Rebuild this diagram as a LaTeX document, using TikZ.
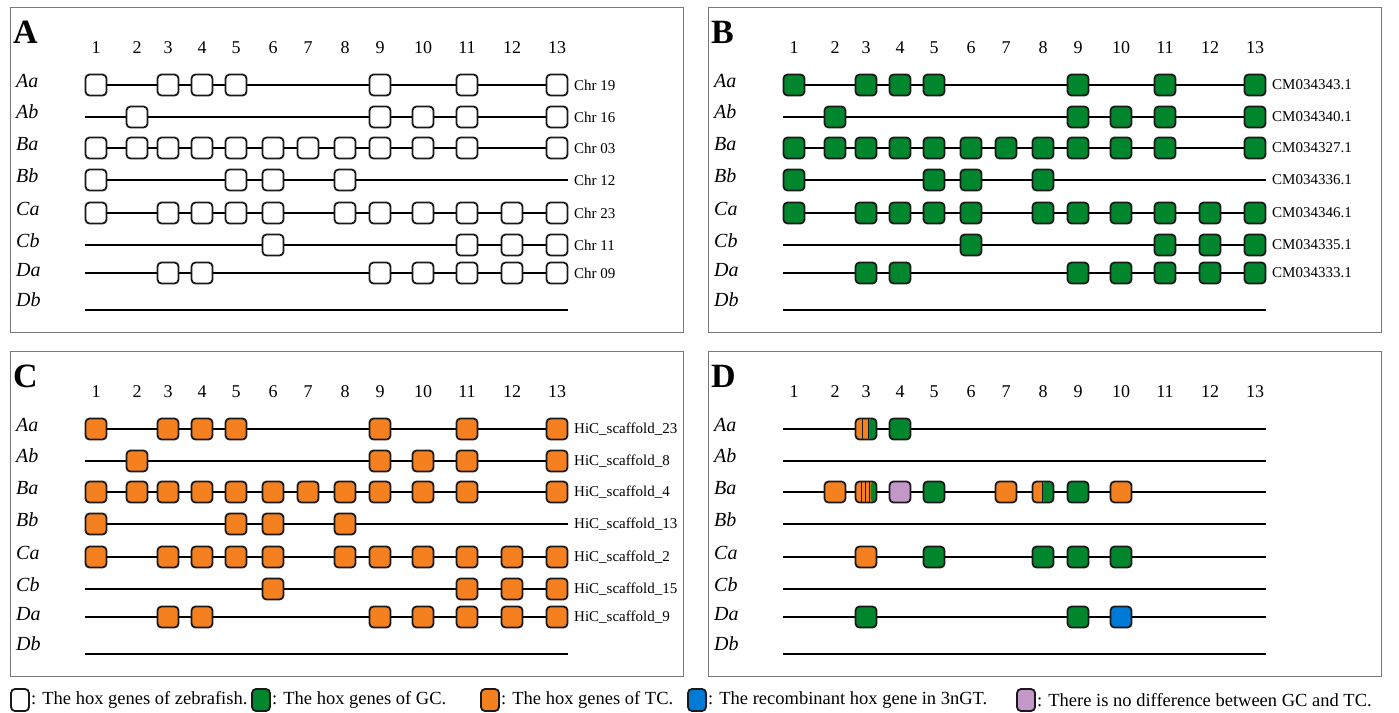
\documentclass[tikz,border=0pt]{standalone}
\usepackage{fontspec}
\setmainfont{Liberation Serif}
\usepackage{tikz}
\usetikzlibrary{positioning}

\definecolor{gcgreen}{RGB}{0,135,45}
\definecolor{tcorange}{RGB}{244,128,32}
\definecolor{recblue}{RGB}{0,122,215}
\definecolor{nodiff}{RGB}{195,152,200}
\definecolor{framegray}{RGB}{120,120,120}

\begin{document}
\begin{tikzpicture}[
  x=1pt, y=-1pt,
  panel/.style={draw=framegray, line width=1pt},
  letter/.style={font=\fontsize{34}{34}\selectfont\bfseries, anchor=west, inner sep=0pt},
  colnum/.style={font=\fontsize{18}{18}\selectfont, inner sep=0pt},
  rowname/.style={font=\fontsize{20}{20}\selectfont\itshape, anchor=west, inner sep=0pt},
  chrom/.style={font=\fontsize{15}{15}\selectfont, inner sep=0pt},
  track/.style={line width=1.6pt},
  hox/.style={draw=black!90, line width=1.8pt, rounded corners=4pt, minimum size=21pt, inner sep=0pt},
  legkey/.style={minimum width=18pt, minimum height=22pt},
  legtext/.style={font=\fontsize{18.5}{18.5}\selectfont, inner sep=1pt},
  mixtwo/.style={fill=tcorange, path picture={
    \fill[gcgreen] ([xshift=13pt]path picture bounding box.north west) rectangle (path picture bounding box.south east);
    \draw[line width=0.8pt] ([xshift=7pt]path picture bounding box.north west) -- ([xshift=7pt]path picture bounding box.south west);
    \draw[line width=0.8pt] ([xshift=13pt]path picture bounding box.north west) -- ([xshift=13pt]path picture bounding box.south west);
  }},
  mixthree/.style={fill=tcorange, path picture={
    \fill[gcgreen] ([xshift=15pt]path picture bounding box.north west) rectangle (path picture bounding box.south east);
    \foreach \s in {5.5,9.5,13.5}
      \draw[line width=0.8pt] ([xshift=\s pt]path picture bounding box.north west) -- ([xshift=\s pt]path picture bounding box.south west);
  }},
  mixhalf/.style={fill=tcorange, path picture={
    \fill[gcgreen] ([xshift=10pt]path picture bounding box.north west) rectangle (path picture bounding box.south east);
    \draw[line width=0.6pt] ([xshift=10pt]path picture bounding box.north west) -- ([xshift=10pt]path picture bounding box.south west);
  }},
]
\useasboundingbox (0,0) rectangle (1399,712);

% Frames, panel letters, gene numbers, row names and tracks
\foreach \p/\dx/\dy in {A/0/0,B/698/0,C/0/344,D/698/344}{
  \begin{scope}[shift={(\dx,\dy)}]
    \draw[panel] (10,7) rectangle (683,332);
    \node[letter] (\p-tag) at (13,32) {\p};
    \foreach \c/\x in {1/96,2/137,3/168,4/202,5/236,6/273,7/308,8/345,9/380,10/423,11/467,12/512,13/557}
      \node[colnum] (\p-n\c) at (\x,48) {\c};
    \foreach \r/\y/\ly in {Aa/85/81,Ab/117/112,Ba/148/144,Bb/180/176,Ca/213/209,Cb/245/241,Da/273/270,Db/310/300}{
      \node[rowname] (\p-\r) at (16,\ly) {\r};
      \coordinate (\p-\r-start) at (85,\y);
      \coordinate (\p-\r-end) at (568,\y);
      \draw[track] (\p-\r-start) -- (\p-\r-end);
    }
  \end{scope}
}

% Hox genes of zebrafish (A), GC (B) and TC (C)
\foreach \p/\colr in {A/white,B/gcgreen,C/tcorange}{
  \foreach \r/\genes in {Aa/{1,3,4,5,9,11,13},Ab/{2,9,10,11,13},Ba/{1,2,3,4,5,6,7,8,9,10,11,13},Bb/{1,5,6,8},Ca/{1,3,4,5,6,8,9,10,11,12,13},Cb/{6,11,12,13},Da/{3,4,9,10,11,12,13}}
    \foreach \g in \genes
      \node[hox, fill=\colr] (\p-\r-\g) at (\p-n\g |- \p-\r-start) {};
}

% Chromosome / scaffold names
\foreach \r/\t in {Aa/Chr 19,Ab/Chr 16,Ba/Chr 03,Bb/Chr 12,Ca/Chr 23,Cb/Chr 11,Da/Chr 09}
  \node[chrom, right=6pt of A-\r-end] (A-\r-chr) {\t};
\foreach \r/\t in {Aa/CM034343.1,Ab/CM034340.1,Ba/CM034327.1,Bb/CM034336.1,Ca/CM034346.1,Cb/CM034335.1,Da/CM034333.1}
  \node[chrom, right=6pt of B-\r-end] (B-\r-chr) {\t};
\foreach \r/\t in {Aa/23,Ab/8,Ba/4,Bb/13,Ca/2,Cb/15,Da/9}
  \node[chrom, right=6pt of C-\r-end] (C-\r-chr) {HiC\_scaffold\_\t};

% Differences between GC and TC (D)
\foreach \r/\g/\colr in {Aa/4/gcgreen,Ba/2/tcorange,Ba/4/nodiff,Ba/5/gcgreen,Ba/7/tcorange,Ba/9/gcgreen,Ba/10/tcorange,Ca/3/tcorange,Ca/5/gcgreen,Ca/8/gcgreen,Ca/9/gcgreen,Ca/10/gcgreen,Da/3/gcgreen,Da/9/gcgreen,Da/10/recblue}
  \node[hox, fill=\colr] (D-\r-\g) at (D-n\g |- D-\r-start) {};
\node[hox, mixtwo] (D-Aa-3) at (D-n3 |- D-Aa-start) {};
\node[hox, mixthree] (D-Ba-3) at (D-n3 |- D-Ba-start) {};
\node[hox, mixhalf] (D-Ba-8) at (D-n8 |- D-Ba-start) {};

% Legend
\node[hox, legkey, fill=white] (key-zf) at (20,700) {};
\node[legtext, right=0pt of key-zf] (txt-zf) {: The hox genes of zebrafish.};
\node[hox, legkey, fill=gcgreen] (key-gc) at (261,700) {};
\node[legtext, right=0pt of key-gc] (txt-gc) {: The hox genes of GC.};
\node[hox, legkey, fill=tcorange] (key-tc) at (490,700) {};
\node[legtext, right=0pt of key-tc] (txt-tc) {: The hox genes of TC.};
\node[hox, legkey, fill=recblue] (key-rec) at (697,700) {};
\node[legtext, right=0pt of key-rec] (txt-rec) {: The recombinant hox gene in 3nGT.};
\node[hox, legkey, fill=nodiff] (key-same) at (1026,700) {};
\node[legtext, right=0pt of key-same] (txt-same) {: There is no difference between GC and TC.};

\end{tikzpicture}
\end{document}
